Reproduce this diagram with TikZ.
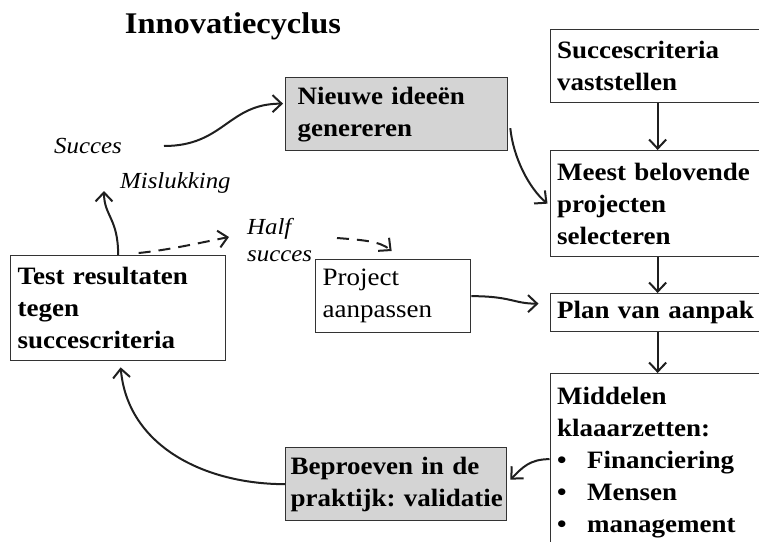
\documentclass[tikz,border=0pt]{standalone}
\usepackage{fontspec}
\setmainfont[FakeStretch=1.08]{Liberation Serif}
\hyphenpenalty=10000
\exhyphenpenalty=10000
\usetikzlibrary{arrows.meta}
\tikzset{
  stap/.style={draw=black!80, line width=1.3pt, anchor=north west, align=left,
    inner xsep=7pt, inner ysep=0pt, font=\fontsize{25}{32}\selectfont\bfseries},
  grijs/.style={stap, fill=black!17},
  pijl/.style={-{Straight Barb[length=9pt,width=17pt]}, line width=2pt, draw=black!88},
  stippel/.style={pijl, dash pattern=on 12pt off 8pt},
  uitkomst/.style={inner sep=0pt, font=\fontsize{23}{27}\selectfont\itshape}
}
\begin{document}
\begin{tikzpicture}[x=1pt, y=-1pt]
  \useasboundingbox (0,0) rectangle (759,541);
  \clip (0,0) rectangle (759,541);

  \node[font=\fontsize{30}{34}\selectfont\bfseries] (titel) at (233,26) {Innovatiecyclus};

  \node[stap, text width=195pt, minimum height=73pt] (doel) at (549.5,29) {Succescriteria\\vaststellen};
  \node[stap, text width=195pt, minimum height=106pt] (selectie) at (549.5,150) {Meest~belovende\\projecten\\selecteren};
  \node[stap, text width=195pt, minimum height=38pt] (plan) at (549.5,293) {Plan~van~aanpak};
  \node[stap, text width=195pt, minimum height=177pt] (middelen) at (549.5,373)
    {Middelen\\klaaarzetten:\\
     \makebox[30pt][l]{\textbullet}Financiering\\
     \makebox[30pt][l]{\textbullet}Mensen\\
     \makebox[30pt][l]{\textbullet}management};
  \node[grijs, inner xsep=12pt, text width=198pt, minimum height=73pt] (ideeen) at (285,77) {Nieuwe~idee\"en\\genereren};
  \node[stap, text width=201pt, minimum height=105pt] (toets) at (10,255) {Test~resultaten\\tegen\\succescriteria};
  \node[stap, font=\fontsize{25}{32}\selectfont\mdseries, text width=141pt, minimum height=73pt] (aanpassen) at (315,259) {Project\\aanpassen};
  \node[grijs, inner xsep=5pt, text width=211pt, minimum height=73pt] (beproeven) at (285,447) {Beproeven~in~de\\praktijk:~validatie};

  \node[uitkomst] (succes) at (88,146) {Succes};
  \node[uitkomst, anchor=west] (mislukking) at (120,183) {Mislukking};
  \node[uitkomst, anchor=west, align=left] (half) at (247,240) {Half\\succes};

  \draw[pijl] ([xshift=42pt]succes.east) .. controls +(60,0) and +(-55,0) .. ([xshift=-2pt,yshift=10.5pt]ideeen.west);
  \draw[pijl] ([xshift=2pt,yshift=-14pt]ideeen.east) .. controls +(3,30) and +(-18,-15) .. ([xshift=-2pt]selectie.west);
  \draw[pijl] ([xshift=3pt]doel.south) -- ([xshift=3pt]selectie.north);
  \draw[pijl] ([xshift=3pt]selectie.south) -- ([xshift=3pt]plan.north);
  \draw[pijl] ([xshift=3pt]plan.south) -- ([xshift=3pt]middelen.north);
  \draw[pijl] (aanpassen.east) .. controls +(40,0) and +(-25,0) .. ([xshift=-11pt,yshift=9pt]plan.west);
  \draw[pijl] ([yshift=3pt]middelen.west) .. controls +(-20,0) and +(12,-12) .. ([xshift=3pt,yshift=4.5pt]beproeven.east);
  \draw[pijl] (beproeven.west) .. controls +(-80,0) and +(7,79) .. ([xshift=2.5pt,yshift=-6pt]toets.south);
  \draw[pijl] (toets.north) .. controls +(0,-37) and +(0,25) .. ([xshift=-16pt,yshift=-8pt]mislukking.west);
  \draw[stippel] ([xshift=20.5pt,yshift=2pt]toets.north) .. controls +(30,-3) and +(-30,6) .. ([xshift=-18pt,yshift=3pt]half.west);
  \draw[stippel] ([xshift=90pt,yshift=2pt]half.west) .. controls +(25,2) and +(-12,-10) .. ([xshift=-1.5pt,yshift=8pt]aanpassen.north);
\end{tikzpicture}
\end{document}
